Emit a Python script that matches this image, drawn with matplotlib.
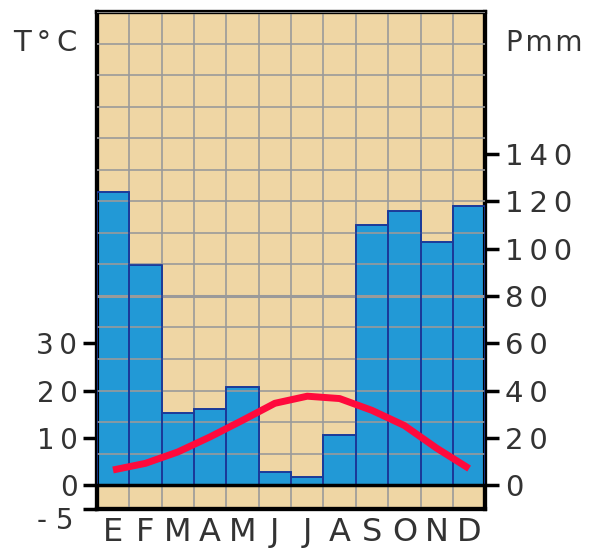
import matplotlib
matplotlib.use("Agg")
import matplotlib.pyplot as plt
import matplotlib.transforms as mtransforms
import numpy as np

months = ['E', 'F', 'M', 'A', 'M', 'J', 'J', 'A', 'S', 'O', 'N', 'D']
precip = [124, 93, 30.5, 32, 41.5, 5.5, 3.4, 21, 110, 116, 103, 118]
temp = [3.2, 4.6, 7.0, 10.2, 13.7, 17.3, 18.8, 18.3, 15.8, 12.6, 7.8, 3.5]
t_ticks = [-5, 0, 10, 20, 30]
p_ticks = [0, 20, 40, 60, 80, 100, 120, 140]

bg = '#EFD6A4'
bar_col = '#2299D6'
edge_col = '#1B3A99'
txt = '#333333'
sp = '\u2009'


def spaced(s, gap=sp):
    return gap.join(list(s))


fig = plt.figure(figsize=(5.94, 5.53), dpi=100)
ax = fig.add_axes([0.163, 0.08, 0.654, 0.898])
ax2 = ax.twinx()

# precipitation on right axis (mm), 2 mm = 1 degree
ax2.set_ylim(-10, 200)
ax.set_ylim(-5, 100)
ax.set_xlim(0, 12)

x = np.arange(12)
ax.set_facecolor(bg)
ax2.bar(x + 0.5, precip, width=1.0, color=bar_col, edgecolor=edge_col, linewidth=1.2, zorder=2)

# grid
for yy in np.linspace(0, 200, 16):
    lw = 2.2 if abs(yy - 80) < 0.1 else 1.2
    ax2.axhline(yy, color='#9a9a9a', lw=lw, zorder=3)
for xx in range(1, 12):
    ax2.plot([xx, xx], [-10, 200], color='#9a9a9a', lw=1.2, zorder=1)
# bar edges above grid
ax2.bar(x + 0.5, precip, width=1.0, color='none', edgecolor=edge_col, linewidth=1.2, zorder=4)
ax2.axhline(0, color='black', lw=2.5, zorder=5)

# temperature on twin scale
ax2.plot(x + 0.5, np.array(temp) * 2, color='#FF0A3C', lw=5, zorder=6, solid_capstyle='butt')

for a in (ax, ax2):
    for s in a.spines.values():
        s.set_linewidth(3)
        s.set_color('black')
ax.set_zorder(0)
ax2.set_zorder(1)
ax2.patch.set_visible(False)

ax.set_yticks(t_ticks)
ax.set_yticklabels([('' if t < 0 else spaced(str(t))) for t in t_ticks])
ax2.set_yticks(p_ticks)
ax2.set_yticklabels([spaced(str(p)) for p in p_ticks])
ax.tick_params(axis='y', direction='out', length=10, width=2.5, labelsize=20, labelcolor=txt, pad=4)
ax2.tick_params(axis='y', direction='out', length=10, width=2.5, labelsize=21, labelcolor=txt, pad=4)
ax.set_xticks(x + 0.5)
ax.set_xticklabels(months)
ax.tick_params(axis='x', length=0, labelsize=23, labelcolor=txt, pad=6)

# the -5 label sits a little below its tick
off = mtransforms.offset_copy(ax.get_yaxis_transform(), fig=fig, x=-17, y=-9, units='points')
ax.text(0, t_ticks[0], '- 5', transform=off, fontsize=20, color=txt, ha='right', va='center')

fig.text(0.022, 0.922, 'T' + sp + '\u00b0' + sp + 'C', fontsize=21, color=txt, ha='left', va='center')
fig.text(0.852, 0.922, spaced('Pmm', '\u200a'), fontsize=20, color=txt, ha='left', va='center')

fig.savefig('out.png', dpi=100, facecolor='white')
